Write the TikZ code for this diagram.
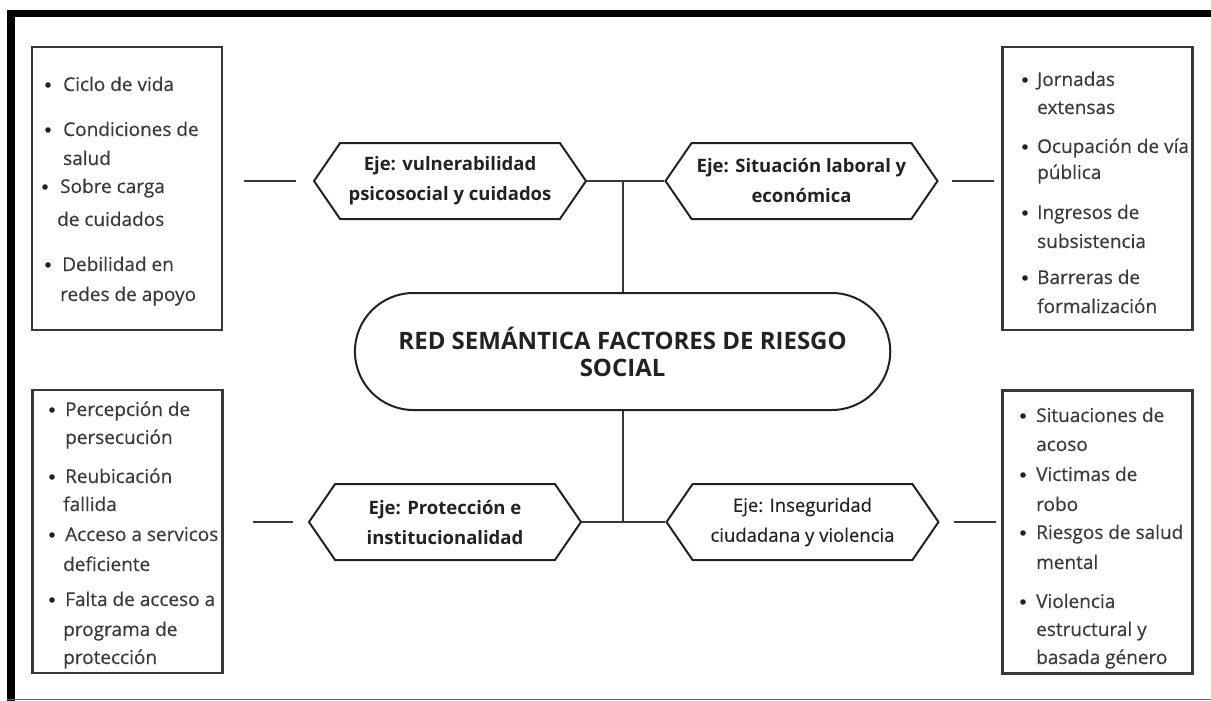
\documentclass[tikz,border=0pt]{standalone}
\usepackage{fontspec}
\setmainfont{Open Sans}
\newfontfamily\itemfont{Open Sans}[FakeBold=0.4]
\usetikzlibrary{shapes.symbols,shapes.misc}
\definecolor{boxline}{HTML}{383838}
\definecolor{itemtext}{HTML}{3A3A3A}
\definecolor{ejeline}{HTML}{222222}
\tikzset{
  link/.style={draw=boxline,line width=2pt},
}
\tikzstyle{listbox}=[draw=boxline,line width=2.4pt,minimum width=190,minimum height=283,inner sep=0]
\tikzstyle{riskline}=[anchor=base west,inner sep=0,text=itemtext,font=\itemfont\fontsize{19}{22}\selectfont]
\tikzstyle{ejebox}=[shape=signal,signal to=west and east,signal pointer angle=111,draw=ejeline,line width=2pt,
  minimum width=272,minimum height=76,inner sep=0,align=center,text=ejeline,font=\bfseries\fontsize{18.5}{30}\selectfont]
\tikzstyle{titlebox}=[rounded rectangle,draw=ejeline,line width=2pt,minimum width=542,minimum height=117,
  align=center,text=ejeline,font=\bfseries\fontsize{24}{27}\selectfont]

\begin{document}
\begin{tikzpicture}[x=1pt,y=-1pt]
    \useasboundingbox (0,0) rectangle (1211,701);
    % frame
    \draw[line width=7pt] (7,13.5)--(1211,13.5);
    \draw[line width=8pt] (11,10)--(11,701);
    \draw[black!60,line width=1.5pt] (7,699.5)--(1211,699.5);

    % centre and axes
    \node[titlebox] (title) at (622.6,351.5) {RED SEMÁNTICA FACTORES DE RIESGO\\SOCIAL};
    \node[ejebox] (tlhex) at (450,181) {Eje: vulnerabilidad\\psicosocial y cuidados};
    \node[ejebox] (trhex) at (801.5,181) {Eje: Situación laboral y\\económica};
    \node[ejebox] (blhex) at (445,522) {Eje: Protección e\\institucionalidad};
    \node[ejebox,font=\itemfont\fontsize{18.5}{30}\selectfont] (brhex) at (802.5,522) {Eje: Inseguridad\\ciudadana y violencia};

    \draw[link] (tlhex.east)--(trhex.west);
    \draw[link] (blhex.east)--(brhex.west);
    \coordinate (topjoin) at (title.north |- tlhex.east);
    \coordinate (botjoin) at (title.south |- blhex.east);
    \draw[link] (topjoin)--(title.north);
    \draw[link] (title.south)--(botjoin);

    % lists
    \node[listbox] (tlbox) at (127,188.5) {};
    \node[listbox] (trbox) at (1097.5,188.5) {};
    \node[listbox] (blbox) at (127.5,531.5) {};
    \node[listbox] (brbox) at (1097.5,532) {};

    \draw[link,shorten <=21,shorten >=17] (tlbox.east |- tlhex.west)--(tlhex.west);
    \draw[link,shorten <=13,shorten >=7] (trhex.east)--(trbox.west |- trhex.east);
    \draw[link,shorten <=29,shorten >=14.5] (blbox.east |- blhex.west)--(blhex.west);
    \draw[link,shorten <=14,shorten >=5] (brhex.east)--(brbox.west |- brhex.east);

    \foreach \x/\y/\t [count=\i] in {63/91/Ciclo de vida,63/136/Condiciones de,63/165/salud,
      60/193/Sobre carga,57/226/de cuidados,62/271/Debilidad en,60/301/redes de apoyo}
      \node[riskline] (tl\i) at (\x,\y) {\t};
    \foreach \x/\y in {48/85,48/130,45/187,48/265}
      \fill[ejeline] (\x,\y) circle (2.8);

    \foreach \y/\t [count=\i] in {86/Jornadas,114/extensas,153/Ocupación de vía,179/pública,
      219/Ingresos de,248/subsistencia,284/Barreras de,313/formalización}
      \node[riskline] (tr\i) at (1037,\y) {\t};
    \foreach \y in {80,147,213,278}
      \fill[ejeline] (1025,\y) circle (2.8);

    \foreach \x/\y/\t [count=\i] in {65/416/Percepción de,65/444/persecución,65/483/Reubicación,
      63/511/fallida,65/541/Acceso a servicos,63/571/deficiente,65/606/Falta de acceso a,
      63/636/programa de,63/664/protección}
      \node[riskline] (bl\i) at (\x,\y) {\t};
    \foreach \y in {410,477,535,600}
      \fill[ejeline] (52,\y) circle (2.8);

    \foreach \y/\t [count=\i] in {422/Situaciones de,451/acoso,481/Victimas de,511/robo,
      539/Riesgos de salud,569/mental,608/Violencia,636/estructural y,664/basada género}
      \node[riskline] (br\i) at (1036,\y) {\t};
    \foreach \y in {416,475,533,602}
      \fill[ejeline] (1023,\y) circle (2.8);
\end{tikzpicture}
\end{document}
